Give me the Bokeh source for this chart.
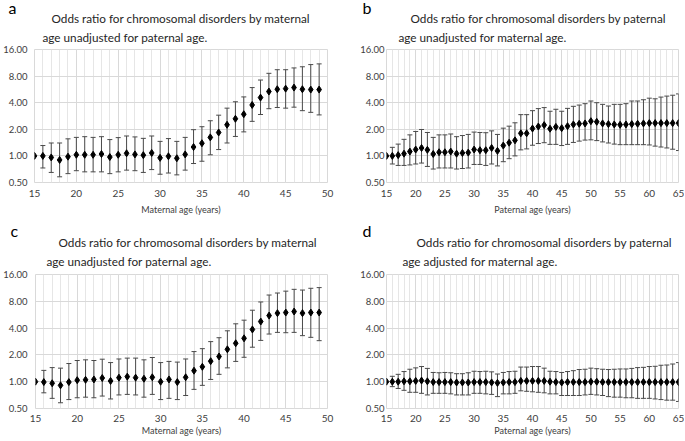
from bokeh.plotting import figure
from bokeh.layouts import column, row
from bokeh.models import (Range1d, FixedTicker, PrintfTickFormatter, Whisker, TeeHead,
                          ColumnDataSource, Title)
from bokeh.embed import file_html
from bokeh.resources import INLINE

# ---------------- data ----------------
ages_mat = list(range(15, 50))
ages_pat = list(range(15, 66))

or_a = [1.00, 1.00, 0.96, 0.90, 0.98, 1.03, 1.03, 1.03, 1.05, 0.97, 1.03, 1.07, 1.04, 1.02, 1.08,
        0.95, 0.99, 0.94, 1.04, 1.26, 1.39, 1.62, 1.84, 2.25, 2.63, 2.96, 3.77, 4.57, 5.35, 5.68,
        5.77, 5.93, 5.68, 5.63, 5.63]
hi_a = [1.31, 1.40, 1.40, 1.56, 1.62, 1.65, 1.62, 1.65, 1.53, 1.61, 1.68, 1.64, 1.58, 1.68, 1.46,
        1.57, 1.46, 1.62, 1.98, 2.14, 2.50, 2.89, 3.47, 4.10, 4.65, 5.93, 7.22, 8.6, 9.45, 9.45,
        9.9, 10.2, 10.8, 11.0]
lo_a = [0.73, 0.65, 0.58, 0.63, 0.68, 0.66, 0.66, 0.66, 0.63, 0.66, 0.69, 0.68, 0.65, 0.70, 0.62,
        0.64, 0.61, 0.69, 0.82, 0.87, 1.03, 1.18, 1.40, 1.66, 1.87, 2.46, 2.94, 3.42, 3.53, 3.47,
        3.56, 3.25, 3.11, 2.91]

or_b = [1.00, 1.00, 1.02, 1.06, 1.12, 1.18, 1.23, 1.17, 1.05, 1.10, 1.10, 1.12, 1.06, 1.08, 1.09,
        1.18, 1.16, 1.16, 1.23, 1.14, 1.31, 1.41, 1.50, 1.80, 1.80, 2.04, 2.15, 2.23, 2.03, 2.13,
        2.06, 2.17, 2.27, 2.31, 2.33, 2.47, 2.43, 2.33, 2.29, 2.27, 2.25, 2.27, 2.29, 2.31, 2.33,
        2.35, 2.35, 2.35, 2.35, 2.35, 2.35]
hi_b = [1.25, 1.36, 1.54, 1.73, 1.89, 1.99, 1.84, 1.62, 1.73, 1.73, 1.77, 1.65, 1.70, 1.75, 1.86,
        1.84, 1.83, 1.92, 1.75, 2.06, 2.17, 2.37, 2.93, 2.93, 3.25, 3.43, 3.52, 3.20, 3.37, 3.20,
        3.45, 3.64, 3.76, 3.90, 4.18, 4.00, 3.83, 3.67, 3.83, 3.83, 3.90, 4.18, 4.18, 4.32, 4.50,
        4.43, 4.63, 4.75, 4.86, 5.03]
lo_b = [0.81, 0.78, 0.78, 0.79, 0.81, 0.83, 0.76, 0.71, 0.73, 0.73, 0.73, 0.71, 0.72, 0.73, 0.80,
        0.80, 0.78, 0.81, 0.77, 0.86, 0.93, 1.00, 1.17, 1.20, 1.32, 1.38, 1.41, 1.35, 1.35, 1.31,
        1.35, 1.42, 1.47, 1.51, 1.52, 1.49, 1.44, 1.40, 1.36, 1.34, 1.34, 1.34, 1.34, 1.34, 1.33,
        1.29, 1.26, 1.23, 1.19, 1.15]

or_c = [1.00, 0.99, 0.96, 0.91, 0.99, 1.04, 1.05, 1.06, 1.10, 1.02, 1.11, 1.14, 1.11, 1.08, 1.12,
        1.00, 1.06, 0.99, 1.12, 1.33, 1.47, 1.70, 1.92, 2.31, 2.70, 3.07, 3.86, 4.74, 5.53, 5.89,
        5.98, 6.14, 5.89, 5.98, 5.98]
hi_c = [1.34, 1.44, 1.42, 1.60, 1.73, 1.76, 1.73, 1.79, 1.64, 1.80, 1.84, 1.84, 1.76, 1.87, 1.64,
        1.69, 1.66, 1.80, 2.18, 2.35, 2.82, 3.12, 3.73, 4.47, 4.91, 6.35, 7.86, 9.41, 9.91, 10.4,
        10.9, 10.7, 11.2, 11.4]
lo_c = [0.75, 0.65, 0.58, 0.63, 0.66, 0.67, 0.66, 0.69, 0.64, 0.71, 0.72, 0.71, 0.67, 0.72, 0.63,
        0.65, 0.63, 0.70, 0.82, 0.91, 1.06, 1.21, 1.43, 1.69, 1.88, 2.44, 2.91, 3.43, 3.58, 3.55,
        3.58, 3.29, 3.15, 2.89]

or_d = [1.00, 1.00, 1.00, 1.01, 1.01, 1.02, 1.03, 1.01, 0.99, 0.99,
        0.99, 0.99, 0.98, 0.98, 0.98, 0.99, 0.99, 0.99, 0.98, 0.97,
        0.98, 0.99, 0.99, 1.02, 1.02, 1.02, 1.02, 1.02, 1.00, 0.99,
        0.98, 0.99, 0.99, 0.99, 0.99, 1.00, 1.00, 0.99, 0.99, 0.99,
        0.99, 0.99, 0.99, 0.99, 0.99, 0.99, 0.99, 0.99, 0.99, 0.99, 0.99]
hi_d = [1.15, 1.21, 1.30, 1.38, 1.43, 1.48, 1.41, 1.27, 1.26, 1.27,
        1.26, 1.23, 1.23, 1.26, 1.31, 1.30, 1.31, 1.29, 1.22, 1.27,
        1.30, 1.31, 1.46, 1.46, 1.48, 1.48, 1.42, 1.31, 1.30, 1.27,
        1.30, 1.33, 1.37, 1.38, 1.42, 1.40, 1.38, 1.37, 1.38, 1.39,
        1.39, 1.41, 1.44, 1.45, 1.48, 1.49, 1.53, 1.54, 1.58, 1.64]
lo_d = [0.88, 0.84, 0.80, 0.76, 0.76, 0.74, 0.71, 0.74, 0.74, 0.74,
        0.73, 0.71, 0.71, 0.71, 0.74, 0.74, 0.73, 0.72, 0.68, 0.73,
        0.73, 0.74, 0.79, 0.78, 0.77, 0.76, 0.75, 0.73, 0.73, 0.70,
        0.70, 0.70, 0.70, 0.71, 0.72, 0.71, 0.70, 0.68, 0.67, 0.67,
        0.66, 0.66, 0.65, 0.65, 0.65, 0.64, 0.63, 0.62, 0.62, 0.60]

y_ticks = [0.5, 1, 2, 4, 8, 16]
title_mat = ["Odds ratio for chromosomal disorders by maternal", "age unadjusted for paternal age."]
title_pat_u = ["Odds ratio for chromosomal disorders by paternal", "age unadjusted for maternal age."]
title_pat_a = ["Odds ratio for chromosomal disorders by paternal", "age adjusted for maternal age."]

FONT = "Lato"
GRID = "#d9d9d9"
TEXT = "#404040"
BAR = "#4a4a4a"


def panel(letter, titles, ages, ors, his, los, xmax, xlabel, w, h, borders, ystand, xstands,
          offs, stands):
    bl, br, bt, bb = borders
    p = figure(width=w, height=h, x_range=Range1d(15, xmax), y_range=Range1d(0.5, 16),
               y_axis_type="log", output_backend="svg", toolbar_location=None, title=None,
               min_border_left=bl, min_border_right=br, min_border_top=bt, min_border_bottom=bb,
               background_fill_color="white", border_fill_color="white")
    p.outline_line_color = GRID
    p.xaxis.ticker = FixedTicker(ticks=list(range(15, xmax + 1, 5)), minor_ticks=list(range(15, xmax + 1)))
    p.yaxis.ticker = FixedTicker(ticks=y_ticks, minor_ticks=[])
    p.yaxis.formatter = PrintfTickFormatter(format="%.2f")
    for ax in (p.xaxis, p.yaxis):
        ax.axis_line_color = None
        ax.major_tick_line_color = None
        ax.minor_tick_line_color = None
        ax.major_tick_out = 0
        ax.major_tick_in = 0
        ax.minor_tick_out = 0
        ax.minor_tick_in = 0
        ax.major_label_text_font = FONT
        ax.major_label_text_color = TEXT
    p.yaxis.major_label_text_font_size = "9.5px"
    p.xaxis.major_label_text_font_size = "10px"
    p.yaxis.major_label_standoff = ystand
    p.xaxis.major_label_standoff = xstands[0]
    p.xaxis.axis_label = xlabel
    p.xaxis.axis_label_standoff = xstands[1]
    p.xaxis.axis_label_text_font = FONT
    p.xaxis.axis_label_text_font_size = "9px"
    p.xaxis.axis_label_text_font_style = "normal"
    p.xaxis.axis_label_text_color = TEXT
    p.xgrid.grid_line_color = GRID
    p.xgrid.minor_grid_line_color = "#e6e6e6"
    p.ygrid.grid_line_color = GRID

    src = ColumnDataSource(dict(x=ages[1:], upper=his, lower=los))
    wk = Whisker(source=src, base="x", upper="upper", lower="lower",
                 line_color=BAR, line_width=1,
                 upper_head=TeeHead(size=5, line_color=BAR, line_width=1),
                 lower_head=TeeHead(size=5, line_color=BAR, line_width=1))
    p.add_layout(wk)
    p.scatter(ages, ors, marker="diamond", size=7, color="black")

    lo, o1, o2 = offs
    s_l, s1, s2 = stands
    p.add_layout(Title(text=titles[1], align="left", offset=o2, standoff=s2,
                       text_font=FONT, text_font_size="11.75px", text_font_style="normal",
                       text_color="#262626"), "above")
    p.add_layout(Title(text=titles[0], align="left", offset=o1, standoff=s1,
                       text_font=FONT, text_font_size="11.75px", text_font_style="normal",
                       text_color="#262626"), "above")
    p.add_layout(Title(text=letter, align="left", offset=lo, standoff=s_l,
                       text_font=FONT, text_font_size="16px", text_font_style="normal",
                       text_color="black"), "above")
    return p


top_stand = (-10, -6, 10)
bot_stand = (-9, -6, 11)

pa = panel("a", title_mat, ages_mat, or_a, hi_a, lo_a, 50, "Maternal age (years)",
           340, 220, (33, 13, 46, 38), 7, (7, 4), (-26, 17, 8), top_stand)
pb = panel("b", title_pat_u, ages_pat, or_b, hi_b, lo_b, 65, "Paternal age (years)",
           344, 220, (46, 6, 46, 37), 2, (7, 4), (-24, 24, 12), top_stand)
pc = panel("c", title_mat, ages_mat, or_c, hi_c, lo_c, 50, "Maternal age (years)",
           340, 220, (33, 13, 54, 32), 8, (6, 0), (-25, 23, 11), bot_stand)
pd = panel("d", title_pat_a, ages_pat, or_d, hi_d, lo_d, 65, "Paternal age (years)",
           344, 220, (46, 6, 54, 32), 2, (6, 0), (-24, 30, 16), bot_stand)

layout = column(row(pa, pb), row(pc, pd))

with open("out.html", "w") as f:
    f.write(file_html(layout, INLINE))
